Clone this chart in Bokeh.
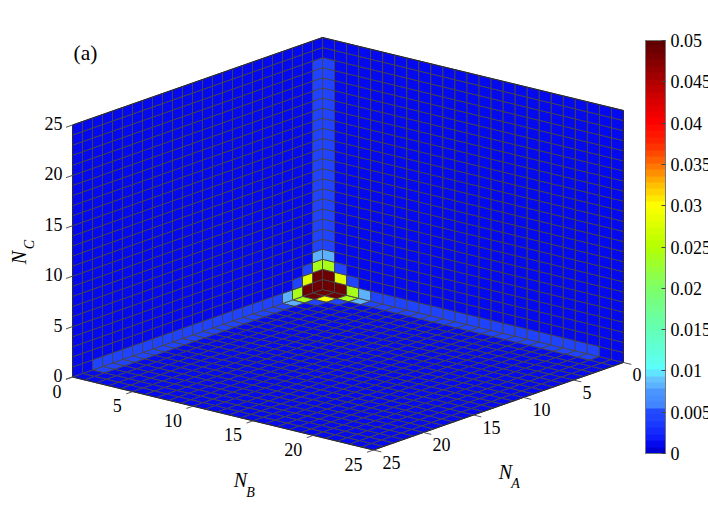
import numpy as np
from bokeh.plotting import figure
from bokeh.models import Range1d, LinearColorMapper, ColorBar, FixedTicker, ColumnDataSource
from bokeh.core.properties import value
from bokeh.embed import file_html
from bokeh.resources import INLINE

# ---- data -------------------------------------------------------------
ticks_3d = [0, 5, 10, 15, 20, 25]
tick_labels_3d = ["0", "5", "10", "15", "20", "25"]
cbar_ticks = [0, 0.005, 0.01, 0.015, 0.02, 0.025, 0.03, 0.035, 0.04, 0.045, 0.05]
cbar_labels = ["0", "0.005", "0.01", "0.015", "0.02", "0.025", "0.03", "0.035", "0.04", "0.045", "0.05"]
N_CELLS = 25
background = 0.0009
# value along the first row of a wall, index 0..24
edge_values = [0.049, 0.049, 0.024, 0.0085, 0.0045, 0.0042, 0.0042, 0.0042, 0.0042, 0.0042,
               0.0042, 0.0042, 0.0042, 0.0042, 0.0042, 0.0042, 0.0042, 0.0042, 0.0042, 0.0042,
               0.0042, 0.0042, 0.0042, 0.0009, 0.0009]
# second row of a wall, index 0..24
second_values = [0.049, 0.028, 0.0045, 0.0012, 0.0009, 0.0009, 0.0009, 0.0009, 0.0009, 0.0009,
                 0.0009, 0.0009, 0.0009, 0.0009, 0.0009, 0.0009, 0.0009, 0.0009, 0.0009, 0.0009,
                 0.0009, 0.0009, 0.0009, 0.0009, 0.0009]
# colormap stops
cmap_v = [0, .0008, .002, .004, .0052, .0056, .0075, .0085, .0095, .0100, .015, .02, .025, .03,
          .0325, .035, .0375, .04, .0425, .045, .0475, .05]
cmap_rgb = [(0, 0, 190), (0, 0, 232), (15, 30, 250), (30, 65, 255), (35, 75, 255), (65, 130, 255),
            (75, 150, 255), (100, 190, 255), (100, 200, 255), (90, 255, 255), (100, 255, 180),
            (125, 255, 105), (180, 255, 0), (255, 255, 0), (255, 190, 0), (255, 110, 0), (255, 40, 0),
            (255, 0, 0), (220, 0, 0), (175, 0, 0), (130, 0, 0), (90, 0, 0)]

# ---- projection (axes box as it appears on the page) -------------------
ORIGIN = np.array([322.0, 289.0])
VEC_A = np.array([-250.0, 87.5]) / 25
VEC_B = np.array([301.0, 73.0]) / 25
VEC_C = np.array([0.0, -252.0]) / 25


def proj(a, b, c):
    return ORIGIN + a * VEC_A + b * VEC_B + c * VEC_C


grid = np.full((N_CELLS, N_CELLS), background)
grid[0, :] = edge_values
grid[:, 0] = edge_values
grid[1, :] = second_values
grid[:, 1] = second_values
floor_grid = grid.copy()
floor_grid[1, 1] = 0.029

xs, ys, vals = [], [], []


def add_cell(corners, v):
    pts = [proj(*c) for c in corners]
    xs.append([p[0] for p in pts])
    ys.append([p[1] for p in pts])
    vals.append(float(v))


for i in range(N_CELLS):
    for j in range(N_CELLS):
        add_cell([(i, j, 0), (i + 1, j, 0), (i + 1, j + 1, 0), (i, j + 1, 0)], floor_grid[i, j])
        add_cell([(i, 0, j), (i + 1, 0, j), (i + 1, 0, j + 1), (i, 0, j + 1)], grid[i, j])
        add_cell([(0, i, j), (0, i + 1, j), (0, i + 1, j + 1), (0, i, j + 1)], grid[i, j])

lv = np.linspace(0, 0.05, 64, endpoint=False) + 0.05 / 128
rgb = np.array(cmap_rgb, float)
palette = ["#%02x%02x%02x" % tuple(int(round(np.interp(v, cmap_v, rgb[:, k]))) for k in range(3)) for v in lv]
mapper = LinearColorMapper(palette=palette, low=0, high=0.05)

p = figure(width=708, height=507, x_range=Range1d(0, 708), y_range=Range1d(507, 0),
           output_backend="svg", toolbar_location=None, min_border=0, outline_line_color=None)
p.axis.visible = False
p.grid.visible = False

src = ColumnDataSource(dict(xs=xs, ys=ys, v=vals))
p.patches("xs", "ys", source=src, fill_color={"field": "v", "transform": mapper}, fill_alpha=1.0,
          line_color="#44444c", line_width=0.9)

# box edges
L = 25
edges = [((L, 0, 0), (L, L, 0)), ((L, L, 0), (0, L, 0)), ((L, 0, 0), (L, 0, L)), ((L, 0, L), (0, 0, L)),
         ((0, 0, L), (0, L, L)), ((0, L, L), (0, L, 0))]
p.multi_line([[proj(*e[0])[0], proj(*e[1])[0]] for e in edges],
             [[proj(*e[0])[1], proj(*e[1])[1]] for e in edges],
             line_color="#2a2a2a", line_width=1)

TL = 0.65
tick_seg = []
for t in ticks_3d:
    tick_seg.append((proj(L, t, 0), proj(L + TL, t, 0)))
    tick_seg.append((proj(t, L, 0), proj(t, L + TL, 0)))
    tick_seg.append((proj(L, 0, t), proj(L + TL, 0, t)))
p.segment([s[0][0] for s in tick_seg], [s[0][1] for s in tick_seg],
          [s[1][0] for s in tick_seg], [s[1][1] for s in tick_seg], line_color="#555555", line_width=1)

FONT = value("Liberation Serif")
font_kw = dict(text_font=FONT, text_font_size="18px", text_color="#000000", text_baseline="middle")
pc = [proj(L, 0, t) for t in ticks_3d]
p.text([q[0] - 10 for q in pc], [q[1] - 1.5 for q in pc], text=tick_labels_3d, text_align="right", **font_kw)
pb = [proj(L, t, 0) for t in ticks_3d]
p.text([q[0] - 11 for q in pb], [q[1] + 14 for q in pb], text=tick_labels_3d, text_align="right", **font_kw)
pa = [proj(t, L, 0) for t in ticks_3d]
p.text([q[0] + 9 for q in pa], [q[1] + 12 for q in pa], text=tick_labels_3d, text_align="left", **font_kw)

ital = dict(text_font=FONT, text_font_style="italic", text_color="#000000", text_baseline="middle", text_align="center")
p.text([240], [479.5], text=["N"], text_font_size="20px", **ital)
p.text([250], [492], text=["B"], text_font_size="14px", **ital)
p.text([505], [471.5], text=["N"], text_font_size="20px", **ital)
p.text([515], [483], text=["A"], text_font_size="14px", **ital)
p.text([18.5], [257], text=["N"], text_font_size="20px", angle=np.pi / 2, **ital)
p.text([28.5], [244], text=["C"], text_font_size="14px", angle=np.pi / 2, **ital)
p.text([85], [52], text=["(a)"], text_font=FONT, text_font_size="21.5px", text_color="#000000",
       text_baseline="middle", text_align="center")

BAR_LEFT, BAR_TOP, BAR_W, BAR_H = 645, 40, 20, 413
bar = ColorBar(color_mapper=mapper, width=BAR_W, height=BAR_H, location=(BAR_LEFT, 507 - BAR_TOP - BAR_H),
               ticker=FixedTicker(ticks=cbar_ticks),
               major_label_overrides={k: v for k, v in zip(cbar_ticks, cbar_labels)},
               major_label_text_font="Liberation Serif", major_label_text_font_size="18px",
               major_label_text_color="#000000", label_standoff=5, padding=0,
               major_tick_line_color="#444444", major_tick_in=4, major_tick_out=0,
               minor_tick_line_color=None, bar_line_color="#777777",
               border_line_color=None, background_fill_alpha=0)
p.add_layout(bar, "center")
# matching tick marks on the bar's left side
tick_y = [BAR_TOP + BAR_H * (1 - t / 0.05) for t in cbar_ticks]
p.segment([BAR_LEFT] * len(tick_y), tick_y, [BAR_LEFT + 4] * len(tick_y), tick_y, line_color="#444444", line_width=1)

open("out.html", "w").write(file_html(p, INLINE))
